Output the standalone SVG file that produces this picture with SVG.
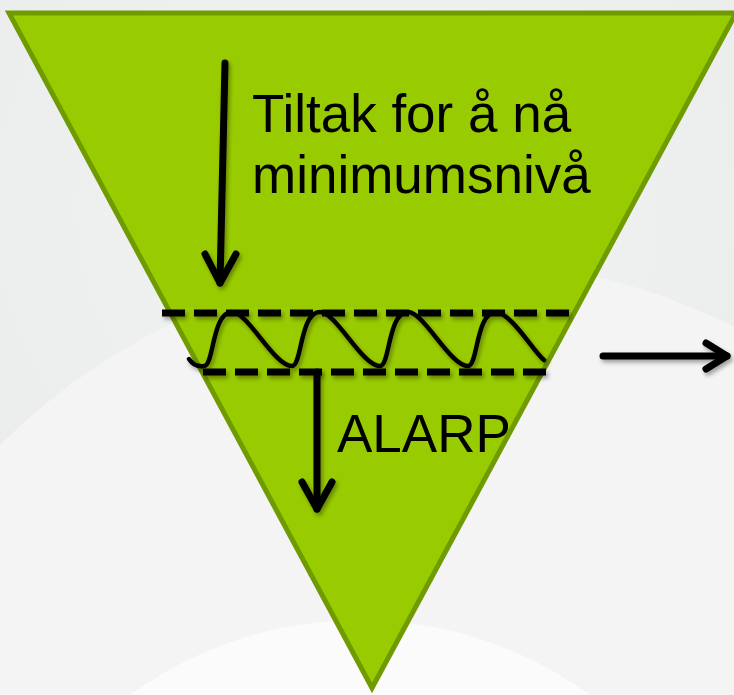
<svg xmlns="http://www.w3.org/2000/svg" width="734" height="695" viewBox="0 0 734 695">
  <style>
    .lbl { font-family: "Liberation Sans", Arial, sans-serif; font-size: 53px; fill: #000; }
    .ln { fill: none; stroke: #000; stroke-width: 7; stroke-linecap: round; stroke-linejoin: round; }
    .dash { fill: none; stroke: #000; stroke-width: 7; stroke-dasharray: 23 9; }
    .wave { fill: none; stroke: #000; stroke-width: 4.5; stroke-linecap: round; stroke-linejoin: round; }
  </style>
  <defs>
    <filter id="sh" x="-20%" y="-20%" width="140%" height="160%">
      <feDropShadow dx="2" dy="3" stdDeviation="2" flood-color="#000" flood-opacity="0.35"/>
    </filter>
    <radialGradient id="bg" cx="0.5" cy="0.3" r="0.8">
      <stop offset="0" stop-color="#f2f3f3"/>
      <stop offset="1" stop-color="#e9eaea"/>
    </radialGradient>
  </defs>
  <!-- background -->
  <g id="background">
    <rect x="0" y="0" width="734" height="695" fill="url(#bg)"/>
    <circle cx="450" cy="900" r="640" fill="#f4f4f4"/>
    <circle cx="360" cy="1010" r="390" fill="#fbfbfb"/>
  </g>
  <!-- triangle -->
  <g id="triangle">
    <polygon points="9,13 736,13 372,688" fill="#99cc00" stroke="#6f9b00" stroke-width="5" stroke-linejoin="miter"/>
  </g>
  <!-- band with dashed lines and wave -->
  <g id="band" filter="url(#sh)">
    <line class="dash" x1="162" y1="313" x2="570" y2="313"/>
    <line class="dash" x1="203" y1="372" x2="548" y2="372"/>
    <path class="wave" d="M189,359 C193,365 198,367 204,366
      c10,0 8,-54 28,-54 c16,0 42,54 60,54
      c10,0 8,-54 28,-54 c16,0 42,54 60,54
      c10,0 8,-54 28,-54 c16,0 42,54 60,54
      c10,0 8,-54 28,-54 c15,1 38,40 48,48"/>
  </g>
  <!-- labels -->
  <g id="label-tiltak">
    <text class="lbl" x="252" y="132">Tiltak for å nå</text>
    <text class="lbl" x="252" y="193">minimumsnivå</text>
  </g>
  <g id="label-alarp">
    <text class="lbl" x="337" y="452">ALARP</text>
  </g>
  <!-- connectors -->
  <g id="connectors" filter="url(#sh)">
    <g id="arrow-down-1">
      <line class="ln" x1="225" y1="63" x2="220" y2="283"/>
      <polyline class="ln" points="205,254 220,283 236,254"/>
    </g>
    <g id="arrow-down-2">
      <line class="ln" x1="317" y1="372" x2="317" y2="509"/>
      <polyline class="ln" points="302,482 317,509 332,482"/>
    </g>
    <g id="arrow-right">
      <line class="ln" x1="603" y1="356" x2="727" y2="356"/>
      <polyline class="ln" points="706,343 727,356 706,369"/>
    </g>
  </g>
</svg>
